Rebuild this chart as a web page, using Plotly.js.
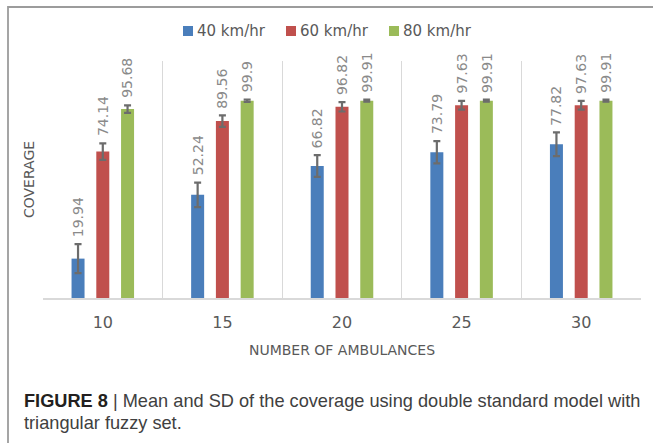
<!DOCTYPE html>
<html>
<head>
<meta charset="utf-8">
<script src="https://cdn.plot.ly/plotly-3.0.1.min.js"></script>
<style>
  html, body { margin: 0; padding: 0; background: #ffffff; }
  #chart { width: 653px; height: 443px; }
</style>
</head>
<body>
<div id="chart"></div>
<script>
// ---- data ----
const categories = ["10", "15", "20", "25", "30"];
const seriesNames = ["40 km/hr", "60 km/hr", "80 km/hr"];
const mean40 = [19.94, 52.24, 66.82, 73.79, 77.82];
const mean60 = [74.14, 89.56, 96.82, 97.63, 97.63];
const mean80 = [95.68, 99.9, 99.91, 99.91, 99.91];
const sd40 = [7.3, 6.2, 5.5, 5.6, 6.0];
const sd60 = [4.2, 2.9, 2.4, 2.2, 2.2];
const sd80 = [1.9, 0.6, 0.5, 0.5, 0.5];
const labels40 = ["19.94", "52.24", "66.82", "73.79", "77.82"];
const labels60 = ["74.14", "89.56", "96.82", "97.63", "97.63"];
const labels80 = ["95.68", "99.9", "99.91", "99.91", "99.91"];

const colors = ["#4a7ebb", "#c0504d", "#9bbb59"];
const means = [mean40, mean60, mean80];
const sds = [sd40, sd60, sd80];
const labelSets = [labels40, labels60, labels80];

// ---- layout geometry ----
const W = 653, H = 443;
const margin = {l: 43, r: 12, t: 61, b: 145};
const plotW = W - margin.l - margin.r;
const plotH = H - margin.t - margin.b;
const bargap = 0.379;
const bargroupgap = 0.475;
const slotPx = plotW / categories.length * (1 - bargap) / seriesNames.length;

const px2paperX = (px) => (px - margin.l) / plotW;
const px2paperY = (py) => (H - margin.b - py) / plotH;

const traces = seriesNames.map((name, s) => ({
  type: "bar",
  name: name,
  x: categories,
  y: means[s],
  marker: {color: colors[s]},
  error_y: {type: "data", array: sds[s], visible: true, color: "#6c6c6c", thickness: 2.2, width: 3.5},
  hoverinfo: "x+y+name"
}));

const annotations = [];
seriesNames.forEach((name, s) => {
  categories.forEach((c, i) => {
    annotations.push({
      // on a category axis, annotation x is the category's serial index
      x: i, y: means[s][i] + sds[s][i],
      xref: "x", yref: "y",
      text: labelSets[s][i],
      showarrow: false,
      textangle: -90,
      xanchor: "center", yanchor: "bottom",
      xshift: (s - 1) * slotPx,
      yshift: 5,
      font: {family: "DejaVu Sans", size: 14, color: "#8a8a8a"}
    });
  });
});

const shapes = [{
  type: "rect", xref: "paper", yref: "paper",
  x0: px2paperX(8), x1: px2paperX(700),
  y0: px2paperY(500), y1: px2paperY(7),
  line: {color: "#9c9c9c", width: 1.8},
  fillcolor: "rgba(0,0,0,0)", layer: "below"
}];

// legend (top, centred on the figure): coloured square + series name
const legendStart = 183, legendStep = 103, legendY = 31, swatch = 10;
seriesNames.forEach((name, s) => {
  const x0 = legendStart + s * legendStep;
  shapes.push({
    type: "rect", xref: "paper", yref: "paper",
    x0: px2paperX(x0), x1: px2paperX(x0 + swatch),
    y0: px2paperY(legendY + swatch / 2), y1: px2paperY(legendY - swatch / 2),
    line: {width: 0}, fillcolor: colors[s]
  });
  annotations.push({
    xref: "paper", yref: "paper",
    x: px2paperX(x0 + swatch + 2), y: px2paperY(legendY),
    xanchor: "left", yanchor: "middle",
    showarrow: false, text: name,
    font: {family: "DejaVu Sans", size: 15, color: "#595959"}
  });
});

// caption
annotations.push({
  xref: "paper", yref: "paper",
  x: px2paperX(22), y: px2paperY(400.5),
  xanchor: "left", yanchor: "middle",
  showarrow: false, align: "left",
  text: "<b>FIGURE 8</b><span style=\"color:#404040\"> | Mean and SD of the coverage using double standard model with</span>",
  font: {family: "Liberation Sans", size: 18.2, color: "#231f20"}
});
annotations.push({
  xref: "paper", yref: "paper",
  x: px2paperX(22), y: px2paperY(423),
  xanchor: "left", yanchor: "middle",
  showarrow: false, align: "left",
  text: "triangular fuzzy set.",
  font: {family: "Liberation Sans", size: 18.2, color: "#404040"}
});

const layout = {
  width: W, height: H,
  margin: margin,
  paper_bgcolor: "#ffffff",
  plot_bgcolor: "#ffffff",
  barmode: "group",
  bargap: bargap,
  bargroupgap: bargroupgap,
  showlegend: false,
  xaxis: {
    type: "category",
    categoryorder: "array",
    categoryarray: categories,
    range: [-0.5, categories.length - 0.5],
    tickson: "boundaries",
    showgrid: true, gridcolor: "#d9d9d9", gridwidth: 1,
    showline: true, linecolor: "#d9d9d9", linewidth: 2,
    ticks: "",
    ticklabelstandoff: 9,
    zeroline: false,
    tickangle: 0,
    tickfont: {family: "DejaVu Sans", size: 16, color: "#595959"},
    title: {text: "NUMBER OF AMBULANCES", font: {family: "DejaVu Sans", size: 14, color: "#595959"}, standoff: 14},
    fixedrange: true
  },
  yaxis: {
    range: [0, 120],
    showgrid: false, zeroline: false, showline: false,
    showticklabels: false, ticks: "",
    title: {text: "COVERAGE", font: {family: "DejaVu Sans", size: 14, color: "#595959"}, standoff: 4},
    fixedrange: true
  },
  annotations: annotations,
  shapes: shapes
};

Plotly.newPlot("chart", traces, layout, {displayModeBar: false, staticPlot: true});
</script>
</body>
</html>
